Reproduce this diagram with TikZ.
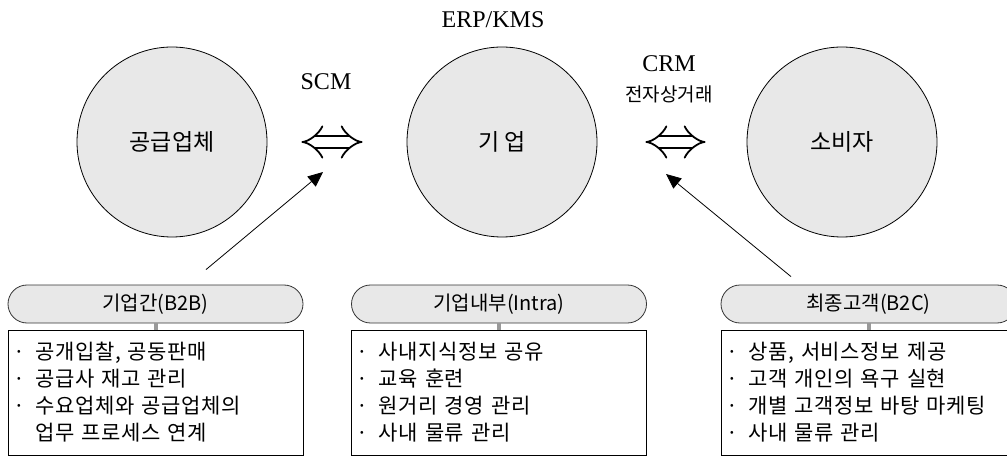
\documentclass[tikz,border=0pt]{standalone}
\usepackage{fontspec}
\setmainfont{Liberation Serif}
\newfontfamily\krfont{Noto Sans CJK KR}
\newfontfamily\krlist[WordSpace=1.5, LetterSpace=3]{Noto Sans CJK KR}
\usetikzlibrary{arrows.meta, positioning}

\newcommand{\bul}{·\hspace{0.5em}}

\begin{document}
\begin{tikzpicture}[
		x=1pt, y=-1pt,
		% Define styles
		party/.style={
			circle,
			draw,
			line width=0.8pt,
			fill=black!9,
			minimum size=190pt,
			inner sep=0pt,
			font=\krfont\fontsize{23}{27}\selectfont
		},
		tag/.style={
			font=\fontsize{24}{28}\selectfont
		},
		header/.style={
			rectangle,
			draw=black!80,
			line width=0.8pt,
			rounded corners=19pt,
			fill=black!9,
			minimum width=295pt,
			minimum height=38pt,
			font=\krfont\fontsize{20}{23}\selectfont
		},
		itembox/.style={
			rectangle,
			draw,
			line width=0.8pt,
			fill=white,
			minimum width=295pt,
			minimum height=125pt,
			text width=285pt,
			inner xsep=5pt,
			align=left,
			font=\krlist\fontsize{21}{27}\selectfont
		},
		% Define arrow styles
		exchange/.style={double, double distance=10pt, line width=1.8pt, {Implies[length=17pt,width=34pt]}-{Implies[length=17pt,width=34pt]}},
		pointer/.style={-{Triangle[length=15pt,width=13pt]}, line width=0.8pt},
		stem/.style={line width=4pt, black!40}
		]
		\useasboundingbox (0,0) rectangle (1007,457);
		\clip (0,0) rectangle (1007,457);
		
		% ----- Parties -----
		\node[party] (supplier) at (172,142) {공급업체};
		\node[party] (firm) at (502,142) {기 업};
		\node[party] (consumer) at (842,142) {소비자};
		
		% ----- System labels -----
		\node[tag] (erp) at (493,20) {ERP/KMS};
		\node[tag] (scm) at (326,82) {SCM};
		\node[tag] (crm) at (669,64) {CRM};
		\node[font=\krfont\fontsize{19}{22}\selectfont] (ecom) at (669,94) {전자상거래};
		
		% ----- Headers -----
		\node[header] (b2b) at (155.5,304) {기업간(B2B)};
		\node[header] (intra) at (499,304) {기업내부(Intra)};
		\node[header] (b2c) at (868.5,304) {최종고객(B2C)};
		
		% ----- Item boxes -----
		\node[itembox] (b2b-items) at (155.5,392.5) {
			\bul 공개입찰, 공동판매 \\
			\bul 공급사 재고 관리 \\
			\bul 수요업체와 공급업체의 \\
			\phantom{\bul}업무 프로세스 연계
		};
		\node[itembox] (intra-items) at (499,392.5) {
			\bul 사내지식정보 공유 \\
			\bul 교육 훈련 \\
			\bul 원거리 경영 관리 \\
			\bul 사내 물류 관리
		};
		\node[itembox] (b2c-items) at (868.5,392.5) {
			\bul 상품, 서비스정보 제공 \\
			\bul 고객 개인의 욕구 실현 \\
			\bul 개별 고객정보 바탕 마케팅 \\
			\bul 사내 물류 관리
		};
		
		% ----- Arrows -----
		\draw[exchange] ([xshift=34pt]supplier.east) -- ([xshift=-44pt]firm.west);
		\draw[exchange] ([xshift=48pt]firm.east) -- ([xshift=-41pt]consumer.west);
		
		\draw[stem] (b2b.south) -- (b2b-items.north);
		\draw[stem] (intra.south) -- (intra-items.north);
		\draw[stem] (b2c.south) -- (b2c-items.north);
		
		\coordinate (scm-tip) at (323,172);
		\coordinate (crm-tip) at (666,174);
		\draw[pointer] ([shift={(50.5,-15)}]b2b.north) -- (scm-tip);
		\draw[pointer] ([shift={(-77.5,-8)}]b2c.north) -- (crm-tip);
		
	\end{tikzpicture}
\end{document}
